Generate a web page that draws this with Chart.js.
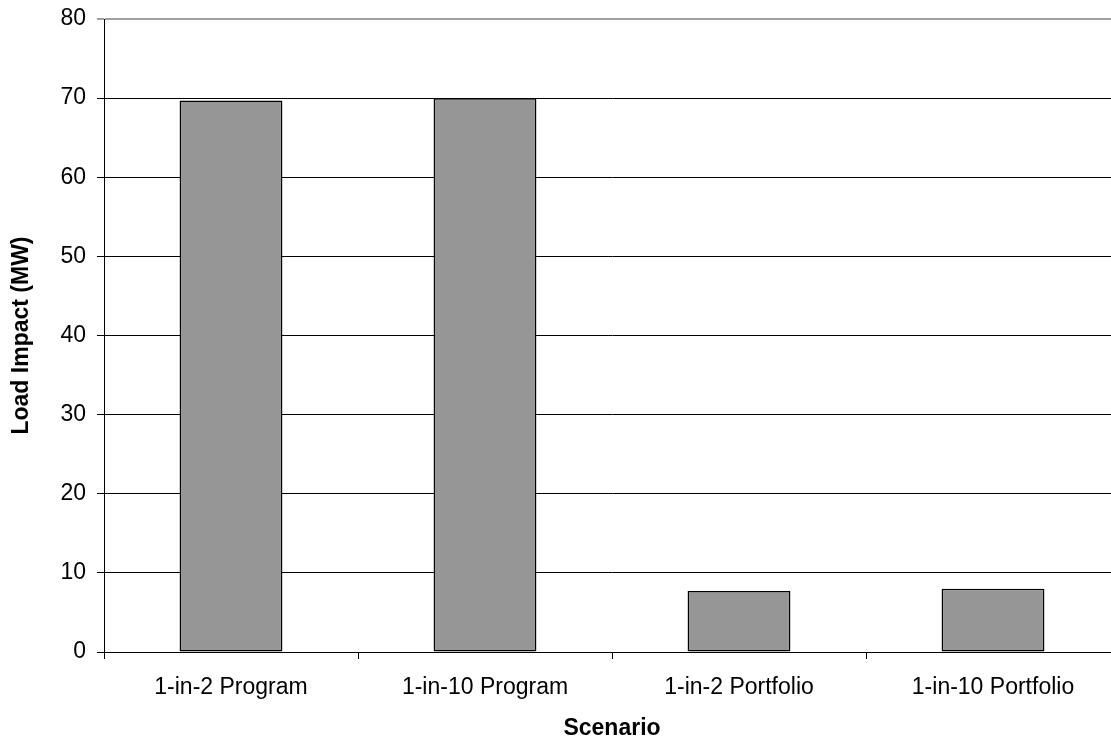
<!DOCTYPE html>
<html>
<head>
<meta charset="utf-8">
<script src="https://cdn.jsdelivr.net/npm/chart.js@4/dist/chart.umd.min.js"></script>
<style>
  html, body { margin: 0; padding: 0; background: #fff; overflow: hidden; }
  #wrap { width: 1120px; height: 738px; position: relative; }
</style>
</head>
<body>
<div id="wrap"><canvas id="chart"></canvas></div>
<script>
// Load impact by scenario (MW)
const categories = ['1-in-2 Program', '1-in-10 Program', '1-in-2 Portfolio', '1-in-10 Portfolio'];
const loadImpact = [69.7, 70.0, 7.7, 8.0];
const yTicks = [0, 10, 20, 30, 40, 50, 60, 70, 80];

const FONT = "'Liberation Sans', Arial, sans-serif";

new Chart(document.getElementById('chart'), {
  type: 'bar',
  data: {
    labels: categories,
    datasets: [{
      label: 'Load Impact (MW)',
      data: loadImpact,
      backgroundColor: '#969696',
      borderColor: '#000',
      borderWidth: 1.5,
      borderSkipped: false,
      barPercentage: 0.405,
      categoryPercentage: 1.0
    }]
  },
  options: {
    responsive: true,
    maintainAspectRatio: false,
    animation: false,
    devicePixelRatio: 1,
    layout: { padding: { top: 19, right: 0, bottom: 0, left: 0 } },
    plugins: {
      legend: { display: false },
      tooltip: { enabled: false }
    },
    scales: {
      x: {
        offset: true,
        afterFit: (s) => { s.height = 86; },
        border: { display: true, color: '#000', width: 1 },
        grid: {
          offset: true,
          drawOnChartArea: false,
          drawTicks: true,
          tickLength: 7,
          color: '#000'
        },
        ticks: {
          color: '#000',
          padding: 15,
          maxRotation: 0,
          autoSkip: false,
          font: { family: FONT, size: 23 }
        },
        title: {
          display: true,
          text: 'Scenario',
          color: '#000',
          padding: { top: 0, bottom: 0 },
          font: { family: FONT, size: 23, weight: 'bold', lineHeight: 0.8 }
        }
      },
      y: {
        min: 0,
        max: 80,
        afterFit: (s) => { s.width = 104; s.paddingTop = 0; s.paddingBottom = 0; },
        afterBuildTicks: (s) => { s.ticks = yTicks.map(v => ({ value: v })); },
        border: { display: true, color: '#000', width: 1 },
        grid: {
          color: (c) => (c.tick && c.tick.value === 80) ? '#a0a0a0' : '#000',
          lineWidth: (c) => (c.tick && c.tick.value === 80) ? 2 : 1,
          tickLength: 7,
          drawTicks: true
        },
        ticks: {
          color: '#000',
          padding: 11,
          font: { family: FONT, size: 23 }
        },
        title: {
          display: true,
          text: 'Load Impact (MW)',
          color: '#000',
          padding: { top: 10, bottom: 0 },
          font: { family: FONT, size: 23, weight: 'bold', lineHeight: 1 }
        }
      }
    }
  }
});
</script>
</body>
</html>
